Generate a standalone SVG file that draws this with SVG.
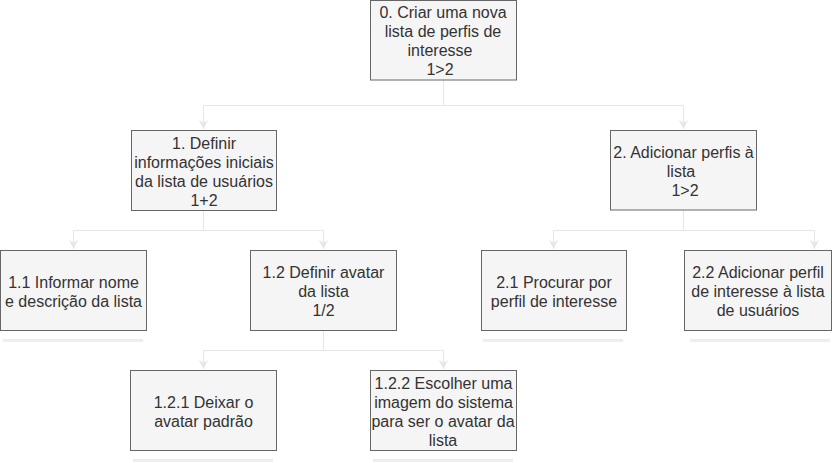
<svg xmlns="http://www.w3.org/2000/svg" width="833" height="463" viewBox="0 0 833 463">
<style>
.box{fill:#f5f5f5;stroke:#666666;stroke-width:1}
.lbl{font-family:"Liberation Sans",Arial,sans-serif;font-size:16px;fill:#333333;text-anchor:middle}
.edge{fill:none;stroke:#e6e6e6;stroke-width:1}
.bar{fill:#eeeeee}
</style>
<defs>
<marker id="arr" viewBox="0 0 10 10" refX="10" refY="5" markerWidth="9" markerHeight="9" orient="auto" markerUnits="userSpaceOnUse">
<path d="M0,0 L10,5 L0,10 L3,5 Z" fill="#e6e6e6"/>
</marker>
</defs>
<rect width="833" height="463" fill="#ffffff"/>
<g id="connectors">
<path class="edge" d="M443.5,80 V105.5 H203.5 V129" marker-end="url(#arr)"/>
<path class="edge" d="M443.5,105.5 H683.5 V129" marker-end="url(#arr)"/>
<path class="edge" d="M203.5,210.5 V230.5 H73.5 V249" marker-end="url(#arr)"/>
<path class="edge" d="M203.5,230.5 H323.5 V249" marker-end="url(#arr)"/>
<path class="edge" d="M683.5,210 V230.5 H553.5 V249" marker-end="url(#arr)"/>
<path class="edge" d="M683.5,230.5 H814.5 V249" marker-end="url(#arr)"/>
<path class="edge" d="M323.5,330.5 V350.5 H203.5 V369" marker-end="url(#arr)"/>
<path class="edge" d="M323.5,350.5 H443.5 V369" marker-end="url(#arr)"/>
</g>
<g id="bars">
<rect class="bar" x="3" y="339" width="140" height="3"/>
<rect class="bar" x="483" y="339" width="140" height="3"/>
<rect class="bar" x="690" y="339" width="140" height="3"/>
<rect class="bar" x="133" y="459" width="140" height="3"/>
<rect class="bar" x="373" y="459" width="140" height="3"/>
</g>
<g id="n0">
<rect class="box" x="370.5" y="0.5" width="146" height="79.5"/>
<text class="lbl"><tspan x="443" y="18">0. Criar uma nova</tspan><tspan x="443" y="37">lista de perfis de</tspan><tspan x="440" y="56">interesse</tspan><tspan x="440" y="75">1&gt;2</tspan></text>
</g>
<g id="n1">
<rect class="box" x="131.5" y="130.5" width="145" height="80"/>
<text class="lbl"><tspan x="204" y="148.5">1. Definir</tspan><tspan x="204" y="167.5">informações iniciais</tspan><tspan x="204" y="186.5">da lista de usuários</tspan><tspan x="204" y="205.5">1+2</tspan></text>
</g>
<g id="n2">
<rect class="box" x="610.5" y="130.5" width="146" height="79.5"/>
<text class="lbl"><tspan x="683.5" y="157.5">2. Adicionar perfis à</tspan><tspan x="681" y="176.5">lista</tspan><tspan x="685" y="195.5">1&gt;2</tspan></text>
</g>
<g id="n1_1">
<rect class="box" x="0.5" y="250.5" width="146" height="80"/>
<text class="lbl"><tspan x="73.5" y="287.5">1.1 Informar nome</tspan><tspan x="73.5" y="306.5">e descrição da lista</tspan></text>
</g>
<g id="n1_2">
<rect class="box" x="250.5" y="250.5" width="146" height="80"/>
<text class="lbl"><tspan x="323.5" y="278">1.2 Definir avatar</tspan><tspan x="323.5" y="297">da lista</tspan><tspan x="323.5" y="316">1/2</tspan></text>
</g>
<g id="n2_1">
<rect class="box" x="481.5" y="250.5" width="145" height="80"/>
<text class="lbl"><tspan x="554" y="287.5">2.1 Procurar por</tspan><tspan x="554" y="306.5">perfil de interesse</tspan></text>
</g>
<g id="n2_2">
<rect class="box" x="684.5" y="250.5" width="147" height="80"/>
<text class="lbl"><tspan x="758" y="278">2.2 Adicionar perfil</tspan><tspan x="758" y="297">de interesse à lista</tspan><tspan x="758" y="316">de usuários</tspan></text>
</g>
<g id="n1_2_1">
<rect class="box" x="130.5" y="370.5" width="146" height="80"/>
<text class="lbl"><tspan x="203.5" y="407.5">1.2.1 Deixar o</tspan><tspan x="203.5" y="426.5">avatar padrão</tspan></text>
</g>
<g id="n1_2_2">
<rect class="box" x="370.5" y="370.5" width="146" height="80"/>
<text class="lbl"><tspan x="443.5" y="388.5">1.2.2 Escolher uma</tspan><tspan x="443.5" y="407.5">imagem do sistema</tspan><tspan x="443" y="426.5">para ser o avatar da</tspan><tspan x="443" y="445.5">lista</tspan></text>
</g>
</svg>
